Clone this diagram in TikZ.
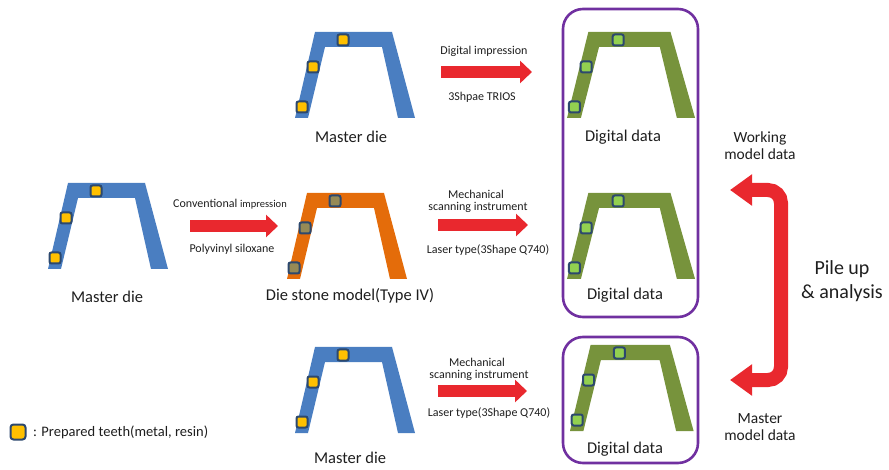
\documentclass[tikz,border=0pt]{standalone}
\usepackage{fontspec}
\setmainfont{Carlito}
\usetikzlibrary{arrows.meta}

\definecolor{dieblue}{RGB}{74,126,193}
\definecolor{dieorange}{RGB}{228,108,10}
\definecolor{diegreen}{RGB}{119,147,60}
\definecolor{boxpurple}{RGB}{112,48,160}
\definecolor{arrowred}{RGB}{233,40,46}
\definecolor{toothgold}{RGB}{255,192,0}
\definecolor{tootholive}{RGB}{150,138,86}
\definecolor{toothlime}{RGB}{146,208,80}
\definecolor{toothedge}{RGB}{44,72,110}
\definecolor{txt}{RGB}{30,30,30}

\tikzset{
  tooth/.style={draw=toothedge, line width=2pt, rounded corners=2pt,
    minimum size=11pt, inner sep=0pt},
  % trapezoid die with three prepared teeth
  pics/die/.style n args={2}{code={
    \fill[#1] (0,86) -- (20,0) -- (97,0) -- (120,86) -- (103,86)
      -- (87,15) -- (30,15) -- (13,86) -- cycle;
    \node[tooth, fill=#2] (-t1) at (48,8) {};
    \node[tooth, fill=#2] (-t2) at (18,35) {};
    \node[tooth, fill=#2] (-t3) at (7,75) {};
  }},
  lbl/.style={text=txt, font=\fontsize{16.5}{18}\selectfont, inner sep=0pt},
  small/.style={text=txt, font=\fontsize{12}{13}\selectfont, inner sep=0pt},
  side/.style={text=txt, font=\fontsize{15.5}{17}\selectfont, inner sep=0pt, align=center},
  flowarrow/.style={arrowred, line width=11.5pt,
    -{Triangle[width=22pt, length=12pt]}},
  looparrow/.style={arrowred, line width=14pt, rounded corners=13pt,
    {Triangle[width=30pt, length=22pt]}-{Triangle[width=30pt, length=22pt]}},
  databox/.style={draw=boxpurple, line width=2.6pt, rounded corners=20pt},
}

\begin{document}
\begin{tikzpicture}[x=1pt, y=-1pt]
\useasboundingbox (0,0) rectangle (889,470);

% data boxes
\draw[databox] (563,9) rectangle (698,317);
\draw[databox] (563,337) rectangle (698,463);

% dies
\pic (mdtop) at (295,32) {die={dieblue}{toothgold}};
\pic (mdleft) at (48,183) {die={dieblue}{toothgold}};
\pic (stone) at (287,193) {die={dieorange}{tootholive}};
\pic (mdbot) at (295,347) {die={dieblue}{toothgold}};
\pic[xscale=1.067] (ddtop) at (567,32) {die={diegreen}{toothlime}};
\pic[xscale=1.067] (ddmid) at (567,193) {die={diegreen}{toothlime}};
\pic[xscale=1.03] (ddbot) at (570,345) {die={diegreen}{toothlime}};

% die captions
\node[lbl] (cap-mdtop) at (351,137) {Master die};
\node[lbl] (cap-mdleft) at (107,297) {Master die};
\node[lbl] (cap-stone) at (350,296) {Die stone model(Type IV)};
\node[lbl] (cap-mdbot) at (350,458) {Master die};
\node[lbl] (cap-ddtop) at (623,137) {Digital data};
\node[lbl] (cap-ddmid) at (625,295) {Digital data};
\node[lbl] (cap-ddbot) at (625,449) {Digital data};

% flow arrows
\coordinate (a1s) at (441,72);  \coordinate (a1e) at (532,72);
\coordinate (a2s) at (190,226); \coordinate (a2e) at (278,226);
\coordinate (a3s) at (438,225); \coordinate (a3e) at (528,225);
\coordinate (a4s) at (438,391); \coordinate (a4e) at (527,391);
\draw[flowarrow] (a1s) -- (a1e);
\draw[flowarrow] (a2s) -- (a2e);
\draw[flowarrow] (a3s) -- (a3e);
\draw[flowarrow] (a4s) -- (a4e);

% arrow labels
\node[small] (t1a) at (484,51) {Digital impression};
\node[small] (t1b) at (482,97) {3Shpae TRIOS};
\node[small] (t2a) at (230,204) {Conventional {\fontsize{10.5}{12}\selectfont impression}};
\node[small] (t2b) at (232,249) {Polyvinyl siloxane};
\node[small] (t3a) at (476,194) {Mechanical};
\node[small] (t3b) at (478,207.5) {scanning instrument};
\node[small] (t3c) at (488,250) {Laser type(3Shape Q740)};
\node[small] (t4a) at (477,362.5) {Mechanical};
\node[small] (t4b) at (479,375) {scanning instrument};
\node[small] (t4c) at (489,413) {Laser type(3Shape Q740)};

% pile-up loop
\coordinate (wtip) at (730,190);
\coordinate (mtip) at (730,380);
\draw[looparrow] (wtip) -- (781,190) -- (781,380) -- (mtip);
\node[side] (working) at (760,146) {Working\\model data};
\node[side] (master) at (760,427) {Master\\model data};
\node[text=txt, font=\fontsize{20}{24}\selectfont, inner sep=0pt, align=center]
  (pile) at (842,281) {Pile up\\\& analysis};

% legend
\node[tooth, fill=toothgold, minimum size=15pt, rounded corners=3pt] (legsq) at (18,432) {};
\node[text=txt, font=\fontsize{14.5}{16}\selectfont, inner sep=0pt, anchor=west]
  (legtxt) at (33,432) {: Prepared teeth(metal, resin)};
\end{tikzpicture}
\end{document}
